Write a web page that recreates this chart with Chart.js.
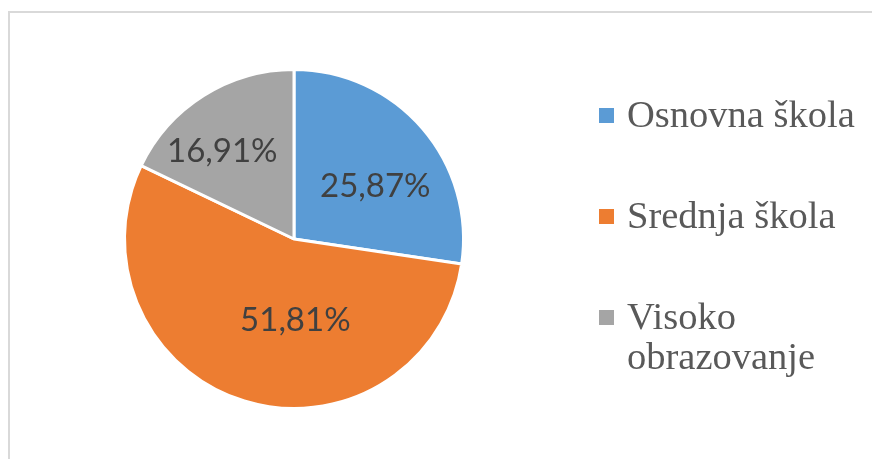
<!DOCTYPE html>
<html>
<head>
<meta charset="utf-8">
<script src="https://cdn.jsdelivr.net/npm/chart.js@4"></script>
<style>
  html, body { margin: 0; padding: 0; background: #fff; }
  #wrap { position: relative; width: 872px; height: 459px; overflow: hidden; }
  #frame { position: absolute; left: 8px; top: 11px; width: 900px; height: 500px;
           border-left: 2px solid #d9d9d9; border-top: 2px solid #d9d9d9; }
  canvas { position: absolute; left: 0; top: 0; }
</style>
</head>
<body>
<div id="wrap">
  <div id="frame"></div>
  <canvas id="pie" width="872" height="459"></canvas>
</div>
<script>
const categories = ['Osnovna škola', 'Srednja škola', 'Visoko obrazovanje'];
const shares = [25.87, 51.81, 16.91];
const colors = ['#5b9bd5', '#ed7d31', '#a5a5a5'];

// label placement tweaks (degrees off the slice middle, share of radius), like Excel's best fit
const labelTurn = [8, -18, -7];
const labelDist = [0.57, 0.48, 0.67];

const fmt = v => v.toFixed(2).replace('.', ',') + '%';

// percentage labels inside the slices
const sliceLabels = {
    id: 'sliceLabels',
    afterDatasetsDraw(chart) {
        const ctx = chart.ctx;
        const arcs = chart.getDatasetMeta(0).data;
        ctx.save();
        ctx.font = '33px Lato';
        ctx.fillStyle = '#404040';
        ctx.textAlign = 'center';
        ctx.textBaseline = 'middle';
        arcs.forEach((arc, i) => {
            const mid = (arc.startAngle + arc.endAngle) / 2 + labelTurn[i] * Math.PI / 180;
            const r = arc.outerRadius * labelDist[i];
            ctx.fillText(fmt(shares[i]), arc.x + Math.cos(mid) * r, arc.y + Math.sin(mid) * r);
        });
        ctx.restore();
    }
};

// legend on the right, long names wrap onto a second line
const sideLegend = {
    id: 'sideLegend',
    afterDraw(chart) {
        const ctx = chart.ctx;
        const boxX = 599, textX = 627, maxW = 236;
        let y = 127;
        ctx.save();
        ctx.font = '38.5px "Liberation Serif"';
        ctx.textBaseline = 'alphabetic';
        categories.forEach((name, i) => {
            ctx.fillStyle = colors[i];
            ctx.fillRect(boxX, y - 19, 15, 15);
            ctx.fillStyle = '#595959';
            const lines = [];
            let line = '';
            name.split(' ').forEach(w => {
                const test = line ? line + ' ' + w : w;
                if (line && ctx.measureText(test).width > maxW) {
                    lines.push(line);
                    line = w;
                } else {
                    line = test;
                }
            });
            lines.push(line);
            lines.forEach((l, k) => ctx.fillText(l, textX, y + k * 40));
            y += 101 + (lines.length - 1) * 40;
        });
        ctx.restore();
    }
};

new Chart(document.getElementById('pie'), {
    type: 'pie',
    data: {
        labels: categories,
        datasets: [{
            data: shares,
            backgroundColor: colors,
            borderColor: '#ffffff',
            borderWidth: 3
        }]
    },
    options: {
        responsive: false,
        animation: false,
        layout: { padding: { top: 68, bottom: 49, left: 123, right: 407 } },
        plugins: {
            legend: { display: false },
            tooltip: { enabled: false }
        }
    },
    plugins: [sliceLabels, sideLegend]
});
</script>
</body>
</html>
